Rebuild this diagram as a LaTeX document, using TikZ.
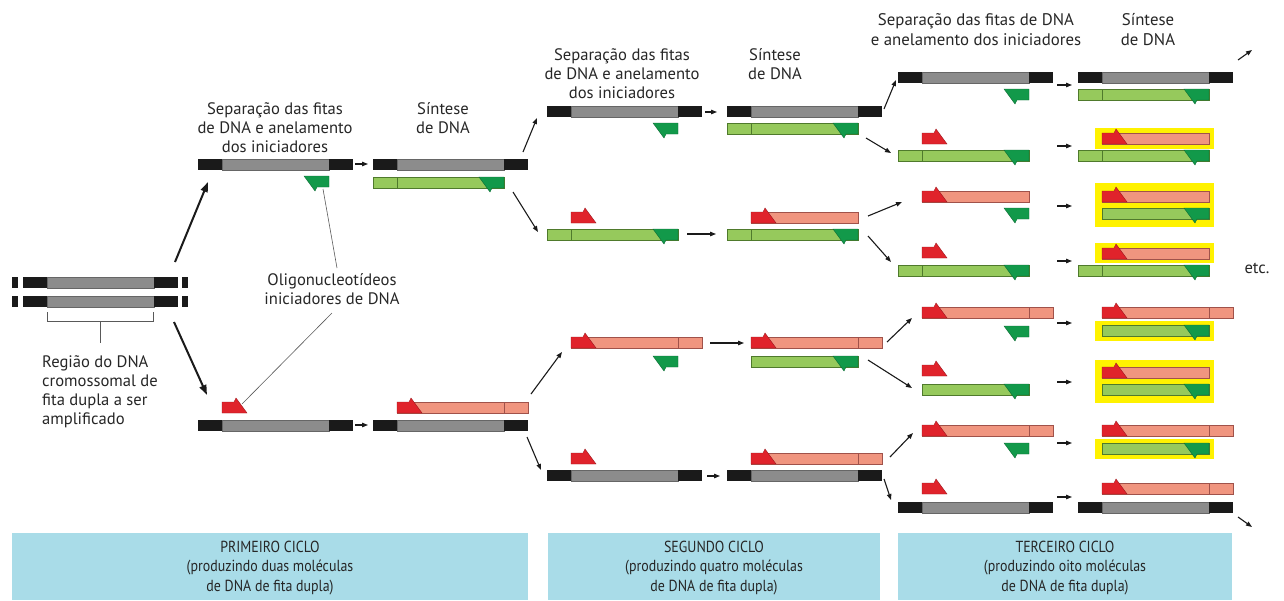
\documentclass[tikz,border=0pt]{standalone}
\usepackage{fontspec}
\setmainfont{PT Sans}
\usetikzlibrary{arrows.meta}
\definecolor{cblack}{HTML}{1A1A1A}
\definecolor{cgray}{HTML}{8C8C8C}
\definecolor{glightc}{HTML}{96C95C}
\definecolor{glinec}{HTML}{4F7A2C}
\definecolor{gdarkc}{HTML}{12994A}
\definecolor{rdarkc}{HTML}{E0232B}
\definecolor{rlightc}{HTML}{F0957F}
\definecolor{rlinec}{HTML}{A0524A}
\definecolor{yelc}{HTML}{FFF200}
\definecolor{bluec}{HTML}{A9DCE8}
\newcommand\tmpl[2]{%
  \fill[cblack] (#1,#2) rectangle (#1+24,#2+11);
  \filldraw[fill=cgray,draw=black!60,line width=0.4pt] (#1+24,#2) rectangle (#1+131,#2+11);
  \fill[cblack] (#1+131,#2) rectangle (#1+155,#2+11);}
\newcommand\gprim[2]{%
  \filldraw[fill=gdarkc,draw=gdarkc!70!black,line width=0.4pt] (#1,#2) -- (#1,#2+11) -- (#1-12,#2+11) -- (#1-14,#2+15) -- (#1-25,#2) -- cycle;}
\newcommand\rprim[2]{%
  \filldraw[fill=rdarkc,draw=rdarkc!70!black,line width=0.4pt] (#1,#2+11) -- (#1,#2) -- (#1+12,#2) -- (#1+14,#2-4) -- (#1+25,#2+11) -- cycle;}
\newcommand\gstrL[2]{%
  \filldraw[fill=glightc,draw=glinec,line width=0.5pt] (#1,#2) rectangle (#1+131,#2+11);
  \draw[glinec,line width=0.5pt] (#1+24,#2) -- (#1+24,#2+11);
  \gprim{#1+131}{#2}}
\newcommand\gstrS[2]{%
  \filldraw[fill=glightc,draw=glinec,line width=0.5pt] (#1+24,#2) rectangle (#1+131,#2+11);
  \gprim{#1+131}{#2}}
\newcommand\rstrL[2]{%
  \filldraw[fill=rlightc,draw=rlinec,line width=0.5pt] (#1+24,#2) rectangle (#1+155,#2+11);
  \draw[rlinec,line width=0.5pt] (#1+131,#2) -- (#1+131,#2+11);
  \rprim{#1+24}{#2}}
\newcommand\rstrS[2]{%
  \filldraw[fill=rlightc,draw=rlinec,line width=0.5pt] (#1+24,#2) rectangle (#1+131,#2+11);
  \rprim{#1+24}{#2}}
\newcommand\cond[1]{\scalebox{0.87}[1]{#1}}
\begin{document}
\begin{tikzpicture}[x=1pt,y=-1pt,
  arr/.style={-{Triangle[length=6pt,width=4.5pt]},line width=1.1pt,cblack},
  bigarr/.style={-{Triangle[length=10pt,width=7pt]},line width=2pt,cblack},
  lbl/.style={font=\fontsize{16.6}{19}\selectfont,align=center,text=black!85,inner sep=0pt},
  labline/.style={draw=black!65,line width=0.6pt},
  cyclebox/.style={fill=bluec},
  boxtxt/.style={font=\fontsize{16}{19.5}\selectfont,align=center,text=black!85,inner sep=0pt},
  yel/.style={fill=yelc}]
\useasboundingbox (0,0) rectangle (1284,600);

% ---------- initial DNA ----------
\fill[cblack] (12,277) rectangle (18,288);
\fill[cblack] (182,277) rectangle (188,288);
\tmpl{23}{277}
\fill[cblack] (12,296) rectangle (18,307);
\fill[cblack] (182,296) rectangle (188,307);
\tmpl{23}{296}
\draw[labline] (47,312) -- (47,321) -- (153,321) -- (153,312);
\draw[labline] (100,321) -- (100,343);
\node[lbl,align=left,anchor=west] (regiao) at (42,392) {Região do DNA\\cromossomal de\\fita dupla a ser\\amplificado};

\coordinate (s0a) at (175,262); \coordinate (s1a) at (208,182);
\coordinate (s0b) at (174,322); \coordinate (s1b) at (207,395);
\draw[bigarr] (s0a) -- (s1a);
\draw[bigarr] (s0b) -- (s1b);

% ---------- first cycle ----------
\node[lbl] (sep1) at (275,128) {Separação das fitas\\de DNA e anelamento\\dos iniciadores};
\node[lbl] (syn1) at (443,118.5) {Síntese\\de DNA};
\tmpl{198}{159}
\gprim{329}{176}
\draw[arr] (355,164) -- (368,164);
\tmpl{373}{159}
\gstrL{373}{177}

\rprim{222}{402}
\tmpl{198}{420}
\draw[arr] (355,425) -- (368,425);
\rstrL{373}{402}
\tmpl{373}{420}

\node[lbl] (oligo) at (332,289.5) {Oligonucleotídeos\\iniciadores de DNA};
\coordinate (gtip) at (323,189);
\coordinate (rtip) at (242,404);
\draw[labline] (gtip) -- (337,268);
\draw[labline] (332,313) -- (rtip);

\draw[arr] (523,152) -- (537,118);
\draw[arr] (513,192) -- (538,232);
\draw[arr] (531,394) -- (562,352);
\draw[arr] (527,437) -- (541,470);

% ---------- second cycle ----------
\node[lbl] (sep2) at (622,74) {Separação das fitas\\de DNA e anelamento\\dos iniciadores};
\node[lbl] (syn2) at (775,64.5) {Síntese\\de DNA};
\tmpl{547}{106}
\gprim{678}{123}
\draw[arr] (705,112) -- (717,112);
\tmpl{727}{106}
\gstrL{727}{123}

\rprim{571}{212}
\gstrL{547}{229}
\draw[arr] (687,234) -- (716,234);
\rstrS{727}{212}
\gstrL{727}{229}

\rstrL{547}{337}
\gprim{678}{356}
\draw[arr] (710,343) -- (744,343);
\rstrL{727}{337}
\gstrS{727}{356}

\rprim{571}{453}
\tmpl{547}{470}
\draw[arr] (707,476) -- (720,476);
\rstrL{727}{453}
\tmpl{727}{470}

\draw[arr] (884,109) -- (896,80);
\draw[arr] (866,138) -- (891,153);
\draw[arr] (868,216) -- (902,202);
\draw[arr] (868,236) -- (891,262);
\draw[arr] (887,342) -- (912,318);
\draw[arr] (868,360) -- (912,388);
\draw[arr] (890,457) -- (913,433);
\draw[arr] (884,479) -- (891,500);

% ---------- third cycle ----------
\node[lbl,font=\fontsize{16.8}{20}\selectfont] (sep3) at (976,30) {Separação das fitas de DNA\\e anelamento dos iniciadores};
\node[lbl,font=\fontsize{16.8}{20}\selectfont] (syn3) at (1148,30) {Síntese\\de DNA};

% R1
\tmpl{898}{72}
\gprim{1029}{89}
\draw[arr] (1057,85) -- (1072,85);
\tmpl{1078}{72}
\gstrL{1078}{89}
% R2
\rprim{922}{133}
\gstrL{898}{150}
\draw[arr] (1057,146) -- (1072,146);
\fill[yel] (1095,128) rectangle (1214,149);
\rstrS{1078}{133}
\gstrL{1078}{150}
% R3
\rstrS{898}{191}
\gprim{1029}{208}
\draw[arr] (1057,206) -- (1072,206);
\fill[yel] (1095,183) rectangle (1214,227);
\rstrS{1078}{191}
\gstrS{1078}{208}
% R4
\rprim{922}{247}
\gstrL{898}{265}
\draw[arr] (1057,261) -- (1072,261);
\fill[yel] (1095,243) rectangle (1214,263);
\rstrS{1078}{248}
\gstrL{1078}{265}
\node[lbl] (etc) at (1257,268) {etc.};
% R5
\rstrL{898}{307}
\gprim{1029}{326}
\draw[arr] (1057,323) -- (1072,323);
\rstrL{1078}{307}
\fill[yel] (1095,321) rectangle (1214,341);
\gstrS{1078}{325}
% R6
\rprim{922}{365}
\gstrS{898}{384}
\draw[arr] (1057,382) -- (1072,382);
\fill[yel] (1095,360) rectangle (1214,403);
\rstrS{1078}{367}
\gstrS{1078}{384}
% R7
\rstrL{898}{425}
\gprim{1029}{443}
\draw[arr] (1057,443) -- (1072,443);
\rstrL{1078}{425}
\fill[yel] (1095,439) rectangle (1214,459);
\gstrS{1078}{443}
% R8
\rprim{922}{483}
\tmpl{898}{502}
\draw[arr] (1057,497) -- (1072,497);
\rstrL{1078}{483}
\tmpl{1078}{502}

\draw[arr] (1238,60) -- (1252,50);
\draw[arr] (1238,517) -- (1252,527);

% ---------- cycle boxes ----------
\fill[cyclebox] (12,533) rectangle (528,600);
\fill[cyclebox] (548,533) rectangle (880,600);
\fill[cyclebox] (898,533) rectangle (1232,600);
\node[boxtxt] (c1) at (270,568) {\cond{PRIMEIRO CICLO}\\\cond{(produzindo duas moléculas}\\\cond{de DNA de fita dupla)}};
\node[boxtxt] (c2) at (714,568) {\cond{SEGUNDO CICLO}\\\cond{(produzindo quatro moléculas}\\\cond{de DNA de fita dupla)}};
\node[boxtxt] (c3) at (1065,568) {\cond{TERCEIRO CICLO}\\\cond{(produzindo oito moléculas}\\\cond{de DNA de fita dupla)}};
\end{tikzpicture}
\end{document}
